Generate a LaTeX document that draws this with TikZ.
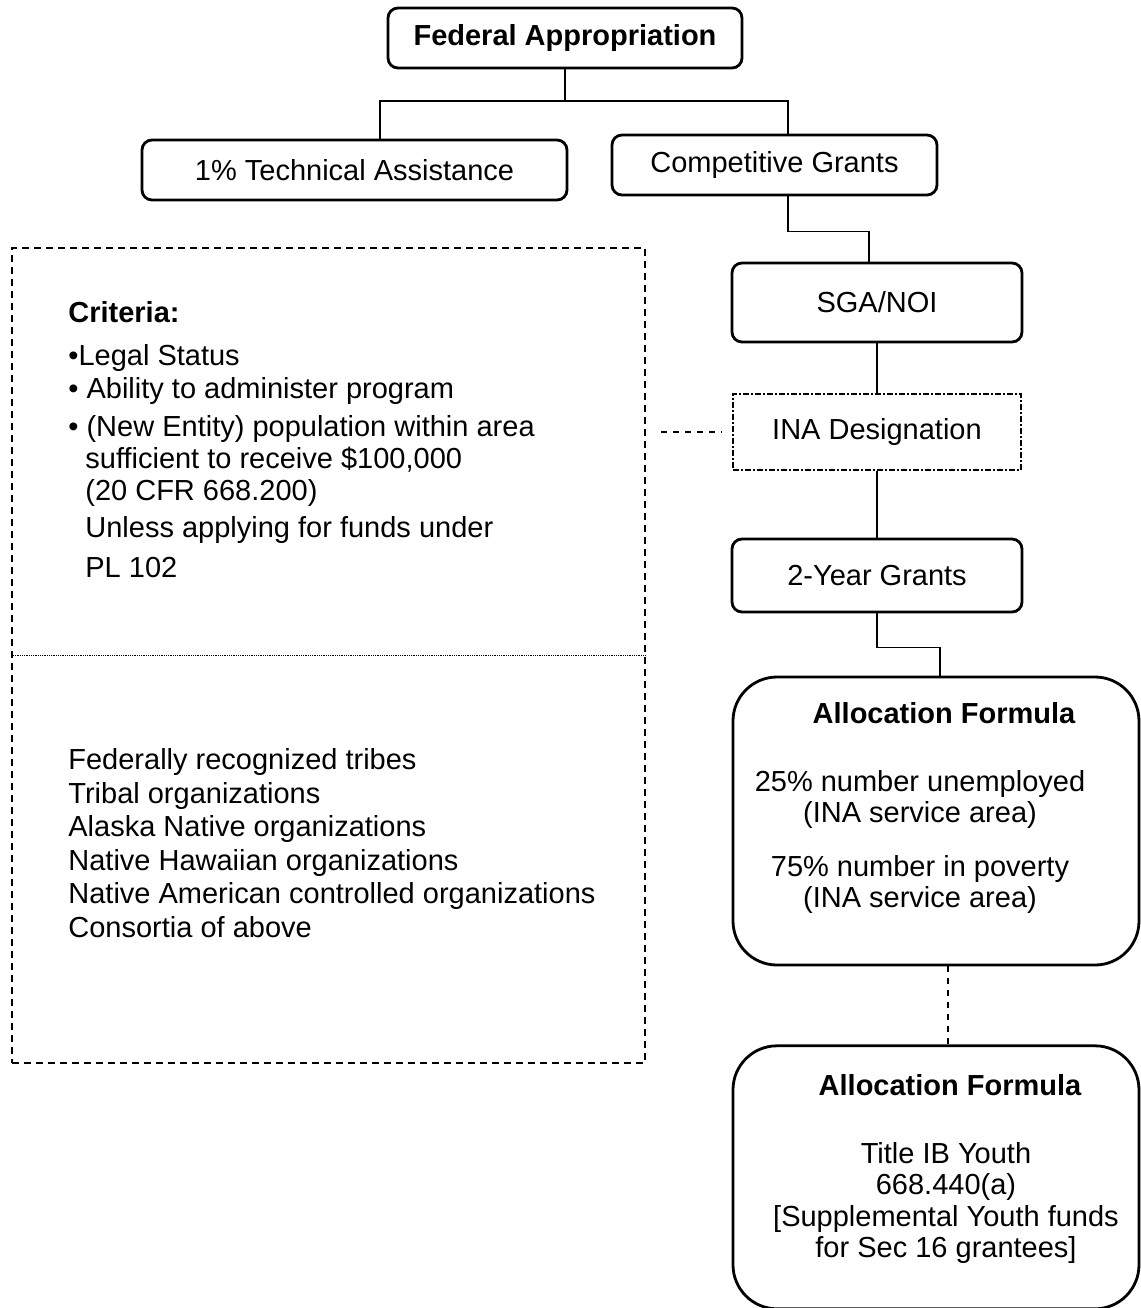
\documentclass[tikz,border=0pt]{standalone}
\usepackage{fontspec}
\setmainfont{Liberation Sans}
\usepackage{tikz}
\usetikzlibrary{arrows}
\usetikzlibrary{positioning}
\tikzstyle{every node}+=[inner sep=0pt]
\tikzstyle{block} = [rectangle, draw, line width=1.4pt, rounded corners=5pt, text centered]
\tikzstyle{bigblock} = [rectangle, draw, line width=1.4pt, rounded corners=22pt, minimum width=203pt]
\tikzstyle{dashblock} = [rectangle, draw, line width=0.6pt, dash pattern=on 3pt off 1pt on 1pt off 1pt]
\tikzstyle{line} = [draw, line width=0.6pt]
\tikzstyle{notes} = [align=left, anchor=north west]
\tikzstyle{formula} = [align=center, anchor=north]

\begin{document}
\begin{tikzpicture}[x=0.5pt, y=-0.5pt, font=\fontsize{14.5pt}{16pt}\selectfont]
            \useasboundingbox (0,0) rectangle (1141,1308);
            % Place nodes
            \node [block, minimum width=177pt, minimum height=30pt, font=\fontsize{14.5pt}{16pt}\selectfont\bfseries] (fed) at (565,38) {Federal Appropriation};
            \node [block, minimum width=212.5pt, minimum height=30pt] (ta) at (354.5,170) {1\% Technical Assistance};
            \node [block, minimum width=162.5pt, minimum height=30pt] (cg) at (774.5,165) {Competitive Grants};
            \node [block, minimum width=145pt, minimum height=39.5pt] (sga) at (877,302.5) {SGA/NOI};
            \node [dashblock, below=25pt of sga, minimum width=144pt, minimum height=38pt] (ina) {INA Designation};
            \node [block, below=33.5pt of ina, minimum width=145pt, minimum height=36.5pt] (yr2) {2-Year Grants};
            \node [bigblock, minimum height=144pt] (alloc1) at (936,821) {};
            \node [bigblock, below=39pt of alloc1, minimum height=131.5pt] (alloc2) {};
            \node [draw, line width=0.8pt, dash pattern=on 3.5pt off 2.5pt, minimum width=316.5pt, minimum height=407.5pt] (crit) at (328.5,655.5) {};
            % Box texts
            \node [anchor=base west, font=\fontsize{14.5pt}{16pt}\selectfont\bfseries] (crithead) at (68,322) {Criteria:};
            \node [notes] (critlist) at (68,344) {•Legal Status\\[0.5pt]
              • Ability to administer program\\[3pt]
              • (New Entity) population within area\\
              \hspace*{8.5pt}sufficient to receive \$100,000\\
              \hspace*{8.5pt}(20 CFR 668.200)\\[2.5pt]
              \hspace*{8.5pt}Unless applying for funds under\\[4pt]
              \hspace*{8.5pt}PL 102};
            \node [notes, font=\fontsize{14.5pt}{16.8pt}\selectfont] (eligible) at (68,748) {Federally recognized tribes\\
              Tribal organizations\\
              Alaska Native organizations\\
              Native Hawaiian organizations\\
              Native American controlled organizations\\
              Consortia of above};
            \node [anchor=base, font=\fontsize{14.5pt}{16pt}\selectfont\bfseries] (a1title) at (944,723) {Allocation Formula};
            \node [formula, font=\fontsize{14.5pt}{15.5pt}\selectfont] (a1text) at (920,770) {25\% number unemployed\\
              (INA service area)\\[11.5pt]
              75\% number in poverty\\
              (INA service area)};
            \node [anchor=base, font=\fontsize{14.5pt}{16pt}\selectfont\bfseries] (a2title) at (950,1095) {Allocation Formula};
            \node [formula, font=\fontsize{14.5pt}{15.75pt}\selectfont] (a2text) at (946,1142) {Title IB Youth\\
              668.440(a)\\
              {[}Supplemental Youth funds\\
              for Sec 16 grantees]};
            % Draw edges
            \coordinate (fork) at (565,101);
            \path [line] (fed.south) -- (fork);
            \path [line] (fork) -| ([xshift=12.75pt]ta.north);
            \path [line] (fork) -| ([xshift=6.75pt]cg.north);
            \path [line] ([xshift=6.75pt]cg.south) -- ++(0,35) -| ([xshift=-4pt]sga.north);
            \path [line] (sga) -- (ina);
            \path [line] (ina) -- (yr2);
            \path [line] (yr2.south) -- ++(0,34) -| ([xshift=2pt]alloc1.north);
            \path [line, dashed] ([xshift=6pt]alloc1.south) -- ([xshift=6pt]alloc2.north);
            \path [line, dashed, shorten <=7.5pt, shorten >=5pt] (crit.east |- ina.west) -- (ina.west);
            \path [draw, line width=0.4pt, dash pattern=on 0.4pt off 0.5pt] (crit.west) -- (crit.east);
\end{tikzpicture}
\end{document}
